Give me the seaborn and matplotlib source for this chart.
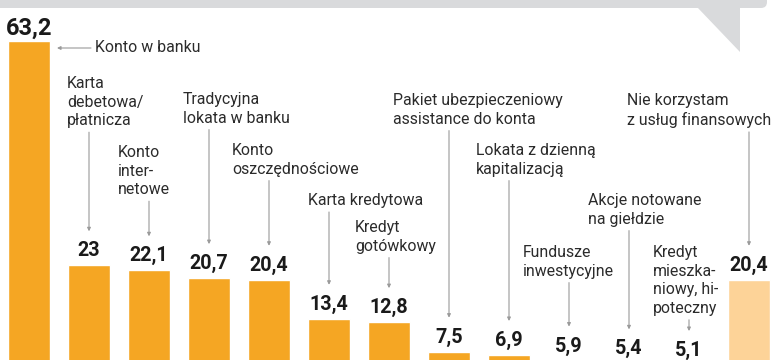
import numpy as np
import pandas as pd
import seaborn as sns
import matplotlib.pyplot as plt
from matplotlib.patches import FancyBboxPatch, Polygon
from matplotlib.transforms import IdentityTransform

# Daten
kategorie = ["Konto w banku", "Karta debetowa/płatnicza", "Konto internetowe",
             "Tradycyjna lokata w banku", "Konto oszczędnościowe", "Karta kredytowa",
             "Kredyt gotówkowy", "Pakiet ubezpieczeniowy assistance do konta",
             "Lokata z dzienną kapitalizacją", "Fundusze inwestycyjne",
             "Akcje notowane na giełdzie", "Kredyt mieszkaniowy, hipoteczny",
             "Nie korzystam z usług finansowych"]
wartosci = [63.2, 23, 22.1, 20.7, 20.4, 13.4, 12.8, 7.5, 6.9, 5.9, 5.4, 5.1, 20.4]
etykiety = ["Konto w banku", "Karta\ndebetowa/\npłatnicza", "Konto\ninter-\nnetowe",
            "Tradycyjna\nlokata w banku", "Konto\noszczędnościowe", "Karta kredytowa",
            "Kredyt\ngotówkowy", "Pakiet ubezpieczeniowy\nassistance do konta",
            "Lokata z dzienną\nkapitalizacją", "Fundusze\ninwestycyjne",
            "Akcje notowane\nna giełdzie", "Kredyt\nmieszka-\nniowy, hi-\npoteczny",
            "Nie korzystam\nz usług finansowych"]

# Layout: Textpositionen in Pixeln (links, oben)
poz_tekst = [(95, 48), (67, 76), (118, 145), (183, 92), (232, 143), (308, 193),
             (355, 220), (393, 93), (476, 143), (523, 245), (588, 193), (653, 245),
             (627, 93)]
kolory = ["#f5a623"] * 12 + ["#fdd398"]

sns.set_style("white")
plt.rcParams["font.family"] = ["Roboto", "DejaVu Sans"]

W, H = 780, 360
fig = plt.figure(figsize=(7.8, 3.6), dpi=100)
ax = fig.add_axes([0, 0, 1, 1])

df = pd.DataFrame({"kat": kategorie, "wart": wartosci})
sns.barplot(data=df, x="kat", y="wart", hue="kat", palette=kolory, legend=False,
            width=0.7, saturation=1, ax=ax)

# Skala: Balken sind unten abgeschnitten
px_per_unit = 5.572
y0_px = 393.5
ax.set_xlim(-29 / 60, (W - 29) / 60)
ax.set_ylim((y0_px - H) / px_per_unit, y0_px / px_per_unit)
ax.axis("off")

# Grauer Balken oben mit Sprechblasen-Spitze
pix = IdentityTransform()
fig.add_artist(FancyBboxPatch((-20, 352), 787, 40, boxstyle="round,pad=0,rounding_size=6",
                              facecolor="#d9dadc", edgecolor="none", transform=pix))
fig.add_artist(Polygon([(697, 353), (740, 353), (740, 308)], closed=True,
                       facecolor="#d9dadc", edgecolor="none", transform=pix))

# Werte
for i, v in enumerate(wartosci):
    s = f"{v:g}".replace(".", ",")
    ax.annotate(s, xy=(i, v), xytext=(0, 4.5 if i == 0 else 6.5), textcoords="offset points",
                ha="center", va="baseline", fontsize=17 if i == 0 else 14.2,
                fontweight="bold", color="#1a1a1a", annotation_clip=False)

# Beschriftungen
teksty = []
for i, (lab, (x, y)) in enumerate(zip(etykiety, poz_tekst)):
    t = fig.text(x / W, 1 - y / H, lab, ha="left", va="center" if i == 0 else "top",
                 fontsize=11.4, color="#2b2b2b", linespacing=1.3)
    teksty.append(t)

fig.canvas.draw()
strz = dict(arrowstyle="-|>", color="#9a9a9a", lw=0.8, shrinkA=0, mutation_scale=5)

# Pfeil fuer Konto w banku (horizontal)
ax.annotate("", xy=(57, H - 48), xycoords="figure pixels", xytext=(91, H - 48),
            textcoords="figure pixels", arrowprops=dict(strz, shrinkB=0))

for i in range(1, len(wartosci)):
    bb = teksty[i].get_window_extent()
    ax.annotate("", xy=(i, wartosci[i]), xycoords="data",
                xytext=(i, bb.y0 - 4), textcoords=("data", "figure pixels"),
                arrowprops=dict(strz, shrinkB=24.5), annotation_clip=False)

fig.savefig("out.png", dpi=100)
